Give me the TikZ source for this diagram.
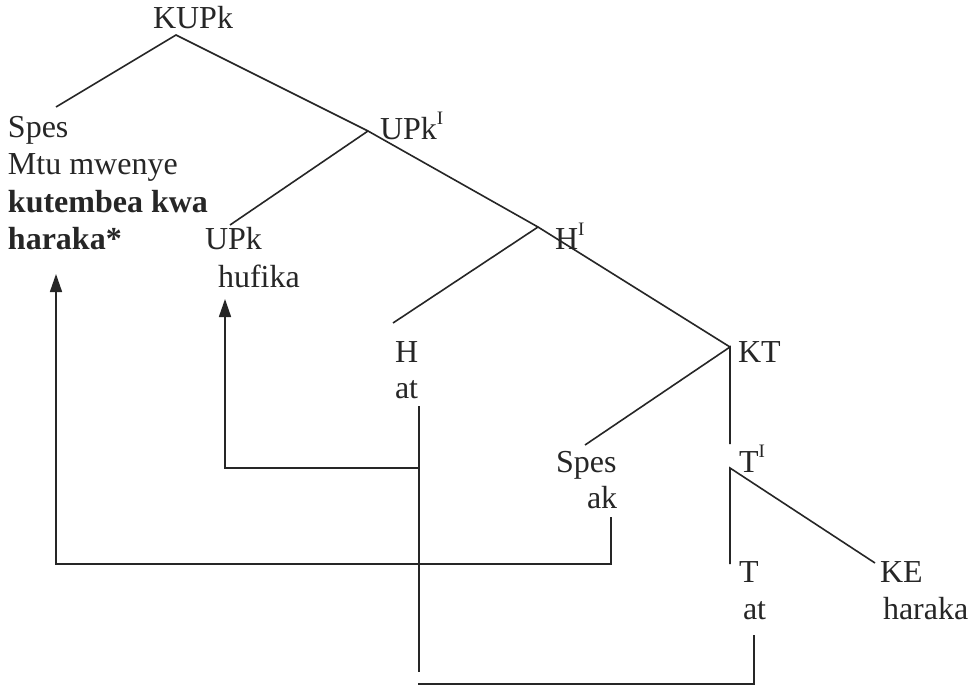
\documentclass[tikz,border=0pt]{standalone}
\usepackage{fontspec}
\setmainfont{Liberation Serif}
\usetikzlibrary{arrows.meta}
\definecolor{ink}{HTML}{262626}
\newcommand{\supI}{\raisebox{15pt}{\fontsize{19}{19}\selectfont I}}
\begin{document}
\begin{tikzpicture}[x=1pt,y=-1pt,
  lbl/.style={anchor=base west,inner sep=0pt,outer sep=0pt,text=ink,font=\fontsize{32}{37}\selectfont},
  br/.style={draw=ink,line width=1.6pt},
  mv/.style={draw=ink,line width=1.6pt,line cap=butt},
  mvarrow/.style={mv,-{Triangle[length=18pt,width=12pt]}}]
\useasboundingbox[fill=white] (0,0) rectangle (970,690);
% labels
\node[lbl] (kupk) at (153,29) {KUPk};
\node[lbl] (spes1) at (8,138) {Spes};
\node[lbl] (mtu) at (8,175) {Mtu mwenye};
\node[lbl,font=\fontsize{32}{37}\selectfont\bfseries] (kut) at (8,213) {kutembea kwa};
\node[lbl,font=\fontsize{32}{37}\selectfont\bfseries] (har) at (8,250) {haraka*};
\node[lbl] (upkI) at (380,140) {UPk\supI};
\node[lbl] (upk) at (205,250) {UPk};
\node[lbl] (hufika) at (218,287) {hufika};
\node[lbl] (hI) at (555,250) {H\supI};
\node[lbl] (h) at (395,362) {H};
\node[lbl] (hat) at (395,398) {at};
\node[lbl] (kt) at (738,362) {KT};
\node[lbl] (spes2) at (556,472) {Spes};
\node[lbl] (ak) at (587,508) {ak};
\node[lbl] (tI) at (739,472) {T\supI};
\node[lbl] (t) at (739,582) {T};
\node[lbl] (tat) at (743,619) {at};
\node[lbl] (ke) at (880,582) {KE};
\node[lbl] (haraka) at (883,619) {haraka};
% branch points and line ends
\coordinate (pKUPk) at (176,35);
\coordinate (eSpes) at (56,107);
\coordinate (pUPkI) at (368,131);
\coordinate (eUPk) at (230,225);
\coordinate (pHI) at (538,227);
\coordinate (eH) at (393,323);
\coordinate (pKT) at (730,347);
\coordinate (eSpes2) at (585,445);
\coordinate (eTI) at (730,444);
\coordinate (pTI) at (730,468);
\coordinate (eT) at (730,564);
\coordinate (eKE) at (875,563);
% tree branches
\draw[br] (eSpes) -- (pKUPk) -- (pUPkI);
\draw[br] (eUPk) -- (pUPkI) -- (pHI);
\draw[br] (eH) -- (pHI) -- (pKT);
\draw[br] (eSpes2) -- (pKT) -- (eTI);
\draw[br] (eT) -- (pTI) -- (eKE);
% movement lines
\coordinate (hatTop) at (419,406);
\coordinate (hatBot) at (419,672);
\coordinate (hatJoin) at (419,468);
\coordinate (upkCorner) at (225,468);
\coordinate (upkTip) at (225,299);
\draw[mv] (hatTop) -- (hatBot);
\draw[mvarrow] (hatJoin) -- (upkCorner) -- (upkTip);
\coordinate (akTop) at (611,517);
\coordinate (akCorner) at (611,564);
\coordinate (spesCorner) at (56,564);
\coordinate (spesTip) at (56,274);
\draw[mvarrow] (akTop) -- (akCorner) -- (spesCorner) -- (spesTip);
\coordinate (tatTop) at (754,635);
\coordinate (tatCorner) at (754,684);
\coordinate (botLeft) at (418,684);
\draw[mv] (tatTop) -- (tatCorner) -- (botLeft);
\end{tikzpicture}
\end{document}
